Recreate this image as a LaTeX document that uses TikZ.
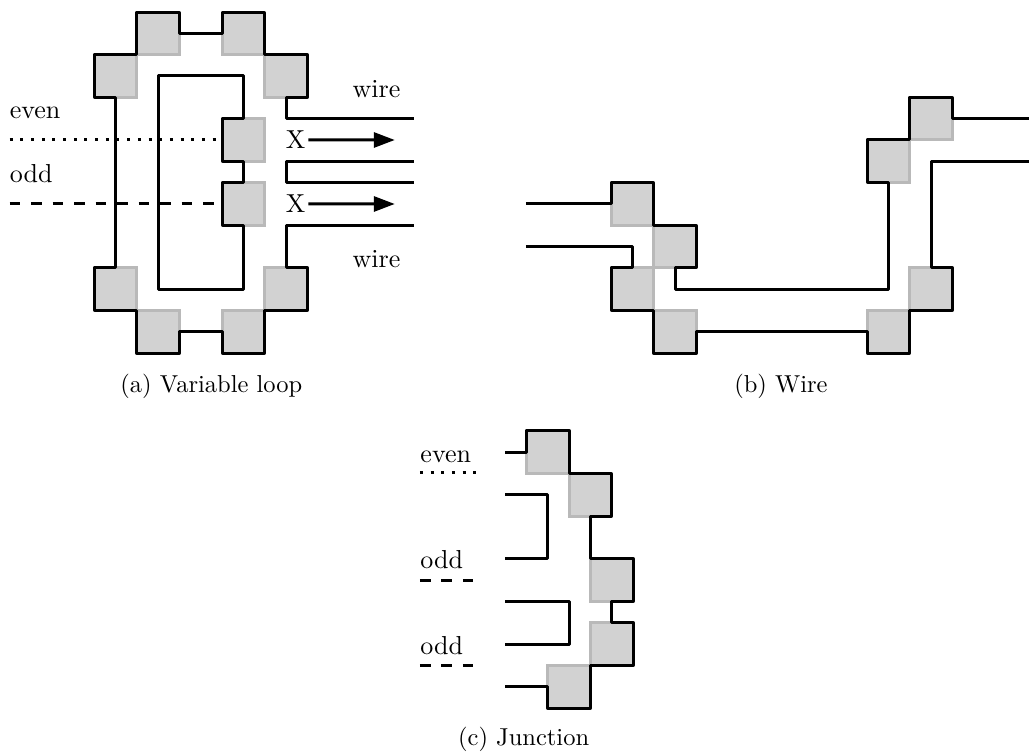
\documentclass[tikz,border=0pt]{standalone}
\usepackage{tikz}
\usetikzlibrary{positioning, arrows.meta}
\def\gridstep{8.533pt}
\tikzset{
    x=\gridstep, y=\gridstep, % one unit is half a tile
    node distance=0pt, % tiles touch unless told otherwise
    >={Triangle[length=8.4pt, width=6pt]},
    tile/.style={draw=gray!55, fill=gray!35, line width=1.2pt, minimum size=2*\gridstep, inner sep=0pt, outer sep=0pt},
    wire/.style={line width=1.2pt, line join=round},
    evenline/.style={line width=1.2pt, dash pattern=on 1.2pt off 3.07pt},
    oddline/.style={line width=1.2pt, dash pattern=on 4.3pt off 4.3pt},
    txt/.style={inner sep=0pt, anchor=base west, scale=1.04},
    subcap/.style={inner sep=0pt, anchor=base, scale=0.98},
}

\begin{document}
\begin{tikzpicture}
    \useasboundingbox (-4.407,0.5625) rectangle (43.83,-34.875);

    % (a)
    \node[tile] (a1) at (3,-1) {};
    \node[tile, right=2*\gridstep of a1] (a2) {};
    \node[tile, below left=of a1] (a3) {};
    \node[tile, below right=of a2] (a4) {};
    \node[tile, below=3*\gridstep of a2] (a5) {};
    \node[tile, below=1*\gridstep of a5] (a6) {};
    \node[tile, below=8*\gridstep of a3] (a7) {};
    \node[tile, below=8*\gridstep of a4] (a8) {};
    \node[tile, below right=of a7] (a9) {};
    \node[tile, below left=of a8] (a10) {};
    \coordinate (aw1) at (15,-5);
    \coordinate (aw2) at (15,-7);
    \coordinate (aw3) at (15,-8);
    \coordinate (aw4) at (15,-10);
    \coordinate (atl) at (3,-3);
    \coordinate (abl) at (3,-13);
    \coordinate (aev) at (-3.95,-6);
    \coordinate (aod) at (-3.95,-9);
    \coordinate (ah1) at (14.1,-6);
    \coordinate (ah2) at (14.1,-9);
    \draw[wire] (aw1) -| (a4.south) -- (a4.south east) -- (a4.north east) -- (a4.north west) -- (a2.south east)
        -- (a2.north east) -- (a2.north west) -- (a2.west) -- (a1.east) -- (a1.north east) -- (a1.north west)
        -- (a3.north east) -- (a3.north west) -- (a3.south west) -- (a3.south) -- (a7.north) -- (a7.north west)
        -- (a7.south west) -- (a9.north west) -- (a9.south west) -- (a9.south east) -- (a9.east) -- (a10.west)
        -- (a10.south west) -- (a10.south east) -- (a8.south west) -- (a8.south east) -- (a8.north east)
        -- (a8.north) |- (aw4);
    \draw[wire] (aw2) -| (aw3 -| a4.south) -- (aw3);
    \draw[wire] (a5.north west) -- (a5.north) |- (atl) -- (abl) -| (a6.south) -- (a6.south west)
        -- (a6.north west) -- (a6.north) -- (a5.south) -- (a5.south west) -- cycle;
    \draw[evenline] (aev) -- (a5.west);
    \draw[oddline] (aod) -- (a6.west);
    \node (ax1) at (9.45,-6) [inner sep=1pt, scale=1.04] {X};
    \node (ax2) at (9.45,-9) [inner sep=1pt, scale=1.04] {X};
    \draw[wire, ->] (ax1) -- (ah1);
    \draw[wire, ->] (ax2) -- (ah2);
    \node[txt] (awt) at (12.1,-4) {wire};
    \node[txt] (awb) at (12.1,-12) {wire};
    \node[txt] (aet) at (-3.97,-5) {even};
    \node[txt] (aot) at (-3.97,-8) {odd};
    \node[subcap] (acap) at (5.5,-17.86) {(a) Variable loop};

    % (b)
    \node[tile] (b1) at (25.25,-9) {};
    \node[tile, below right=of b1] (b2) {};
    \node[tile, below left=of b2] (b3) {};
    \node[tile, below right=of b3] (b4) {};
    \node[tile, right=8*\gridstep of b4] (b5) {};
    \node[tile, above right=of b5] (b6) {};
    \node[tile, above=6*\gridstep of b5] (b7) {};
    \node[tile, above right=of b7] (b8) {};
    \coordinate (bi1) at (20.25,-9);
    \coordinate (bi2) at (20.25,-11);
    \coordinate (bo1) at (43.83,-5);
    \coordinate (bo2) at (43.83,-7);
    \coordinate (bc) at (37.25,-13);
    \draw[wire] (bi1) -- (b1.west) -- (b1.north west) -- (b1.north east) -- (b2.north west) -- (b2.north east)
        -- (b2.south east) -- (b2.south) |- (bc) -- (b7.south) -- (b7.south west) -- (b7.north west)
        -- (b8.south west) -- (b8.north west) -- (b8.north east) -- (b8.east) -- (bo1);
    \draw[wire] (bi2) -| (b3.north) -- (b3.north west) -- (b3.south west) -- (b4.north west) -- (b4.south west)
        -- (b4.south east) -- (b4.east) -- (b5.west) -- (b5.south west) -- (b5.south east) -- (b6.south west)
        -- (b6.south east) -- (b6.north east) -- (b6.north) |- (bo2);
    \node[subcap] (bcap) at (32.2,-17.86) {(b) Wire};

    % (c)
    \node[tile] (c1) at (21.28,-20.64) {};
    \node[tile, below right=of c1] (c2) {};
    \node[tile, below=2*\gridstep of c2, xshift=1*\gridstep] (c3) {};
    \node[tile, below=1*\gridstep of c3] (c4) {};
    \node[tile, below left=of c4] (c5) {};
    \coordinate (ci1) at (19.27,-20.64);
    \coordinate (ci2) at (19.27,-22.64);
    \coordinate (ci3) at (19.27,-25.64);
    \coordinate (ci4) at (19.27,-27.64);
    \coordinate (ci5) at (19.27,-29.64);
    \coordinate (ci6) at (19.27,-31.64);
    \draw[wire] (ci1) -- (c1.west) -- (c1.north west) -- (c1.north east) -- (c2.north west) -- (c2.north east)
        -- (c2.south east) -- (c2.south) -- (c3.north west) -- (c3.north east) -- (c3.south east) -- (c3.south)
        -- (c4.north) -- (c4.north east) -- (c4.south east) -- (c5.north east) -- (c5.south east)
        -- (c5.south west) -- (c5.west) -- (ci6);
    \draw[wire] (ci2) -- ++(2,0) |- (ci3);
    \draw[wire] (ci4) -- ++(3,0) |- (ci5);
    \node[txt] (cet) at (15.28,-21.1) {even};
    \node[txt] (cot1) at (15.28,-26.07) {odd};
    \node[txt] (cot2) at (15.28,-30.1) {odd};
    \coordinate (ce1) at (15.28,-21.6);
    \coordinate (ce2) at (18,-21.6);
    \coordinate (co1) at (15.28,-26.63);
    \coordinate (co2) at (17.75,-26.63);
    \coordinate (co3) at (15.28,-30.64);
    \coordinate (co4) at (17.75,-30.64);
    \draw[evenline] (ce1) -- (ce2);
    \draw[oddline] (co1) -- (co2);
    \draw[oddline] (co3) -- (co4);
    \node[subcap] (ccap) at (20.14,-34.4) {(c) Junction};
\end{tikzpicture}
\end{document}
